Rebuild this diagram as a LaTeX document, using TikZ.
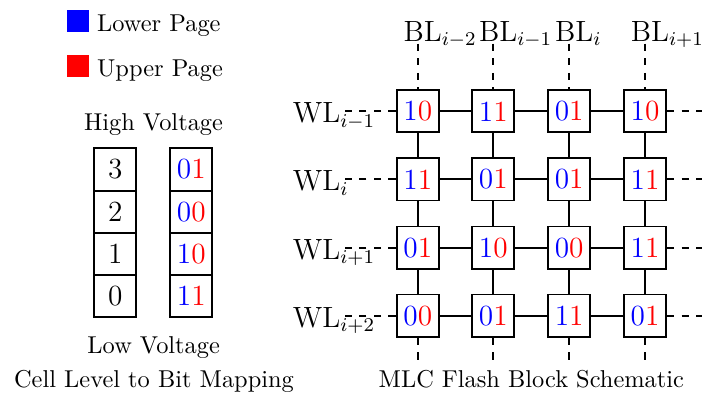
\documentclass[tikz,border=0pt]{standalone}
\newcommand\bp[2]{\textcolor{blue}{#1}\textcolor{red}{#2}}
\begin{document}
\begin{tikzpicture}[x=0.41pt,y=-0.41pt,
  cell/.style={draw,thick,minimum size=17.3pt,inner sep=0pt,font=\large},
  wire/.style={thick},
  dwire/.style={thick,dashed},
  lbl/.style={inner sep=0pt,anchor=base west},
  linelbl/.style={inner sep=0pt,anchor=base west,font=\large},
  ctext/.style={inner sep=0pt,anchor=base},
  swatch/.style={minimum size=8.9pt,inner sep=0pt}]
\useasboundingbox (0,0) rectangle (702,394);

% legend
\node[swatch,fill=blue] (sw1) at (78.2,20.8) {};
\node[swatch,fill=red] (sw2) at (78.2,65.8) {};
\node[lbl] (lg1) at (96.7,31.7) {Lower Page};
\node[lbl] (lg2) at (96.7,76.9) {Upper Page};

% mapping
\node[ctext] (hv) at (153.5,130) {High Voltage};
\node[cell] (m3) at (115.2,169.5) {3};
\node[cell] (m2) at (115.2,211.7) {2};
\node[cell] (m1) at (115.2,253.9) {1};
\node[cell] (m0) at (115.2,296.1) {0};
\node[cell] (b3) at (191.3,169.5) {\bp01};
\node[cell] (b2) at (191.3,211.7) {\bp00};
\node[cell] (b1) at (191.3,253.9) {\bp10};
\node[cell] (b0) at (191.3,296.1) {\bp11};
\node[ctext] (lv) at (153.7,353.6) {Low Voltage};
\node[ctext] (cap1) at (154,387.2) {Cell Level to Bit Mapping};

% grid cells
\node[cell] (g11) at (417.8,111.3) {\bp10};
\node[cell] (g12) at (493.3,111.3) {\bp11};
\node[cell] (g13) at (569.2,111.3) {\bp01};
\node[cell] (g14) at (645.0,111.3) {\bp10};
\node[cell] (g21) at (417.8,179.4) {\bp11};
\node[cell] (g22) at (493.3,179.4) {\bp01};
\node[cell] (g23) at (569.2,179.4) {\bp01};
\node[cell] (g24) at (645.0,179.4) {\bp11};
\node[cell] (g31) at (417.8,247.6) {\bp01};
\node[cell] (g32) at (493.3,247.6) {\bp10};
\node[cell] (g33) at (569.2,247.6) {\bp00};
\node[cell] (g34) at (645.0,247.6) {\bp11};
\node[cell] (g41) at (417.8,315.6) {\bp00};
\node[cell] (g42) at (493.3,315.6) {\bp01};
\node[cell] (g43) at (569.2,315.6) {\bp11};
\node[cell] (g44) at (645.0,315.6) {\bp01};

% solid connectors
\foreach \r in {1,2,3,4}{
  \draw[wire] (g\r1) -- (g\r2);
  \draw[wire] (g\r2) -- (g\r3);
  \draw[wire] (g\r3) -- (g\r4);
}
\foreach \c in {1,2,3,4}{
  \draw[wire] (g1\c) -- (g2\c);
  \draw[wire] (g2\c) -- (g3\c);
  \draw[wire] (g3\c) -- (g4\c);
}

% dashed word lines / bit lines
\foreach \r/\y in {1/111.3,2/179.4,3/247.6,4/315.6}{
  \coordinate (wl\r) at (341.5,\y);
  \coordinate (wr\r) at (702,\y);
  \draw[dwire] (g\r1.west) -- (wl\r);
  \draw[dwire] (g\r4.east) -- (wr\r);
}
\foreach \c/\x in {1/417.8,2/493.3,3/569.2,4/645.0}{
  \coordinate (bt\c) at (\x,43.5);
  \coordinate (bb\c) at (\x,361);
  \draw[dwire] (bt\c) -- (g1\c.north);
  \draw[dwire] (g4\c.south) -- (bb\c);
}

% labels
\node[linelbl] (wlt1) at (292.5,122.8) {$\mathrm{WL}_{i-1}$};
\node[linelbl] (wlt2) at (292.5,190.9) {$\mathrm{WL}_{i}$};
\node[linelbl] (wlt3) at (292.5,259.1) {$\mathrm{WL}_{i+1}$};
\node[linelbl] (wlt4) at (292.5,327.1) {$\mathrm{WL}_{i+2}$};
\node[linelbl] (blt1) at (403.2,41) {$\mathrm{BL}_{i-2}$};
\node[linelbl] (blt2) at (478.7,41) {$\mathrm{BL}_{i-1}$};
\node[linelbl] (blt3) at (554.6,41) {$\mathrm{BL}_{i}$};
\node[linelbl] (blt4) at (630.4,41) {$\mathrm{BL}_{i+1}$};
\node[ctext] (cap2) at (531.3,387) {MLC Flash Block Schematic};
\end{tikzpicture}
\end{document}
